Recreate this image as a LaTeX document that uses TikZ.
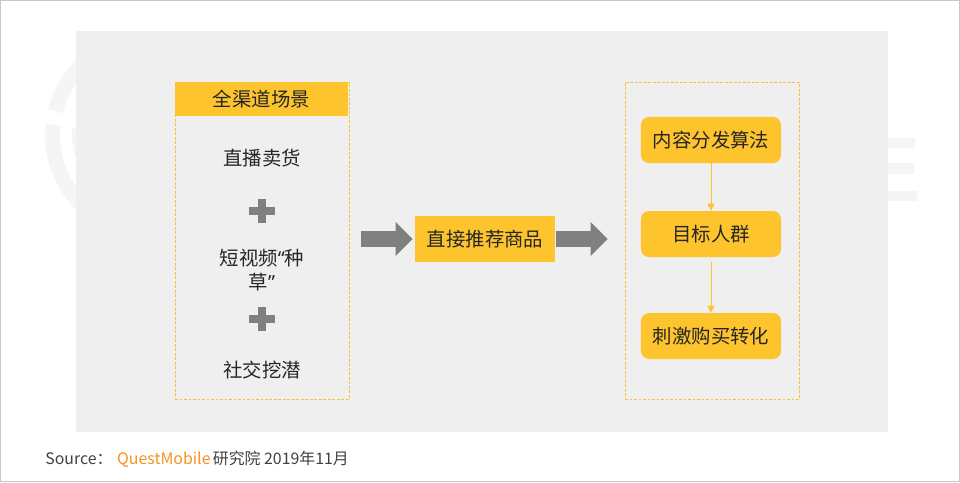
\documentclass[tikz,border=0pt]{standalone}
\usepackage{fontspec}
\setmainfont{Noto Sans CJK SC}
\newfontfamily\quotefont{Noto Sans}
\usetikzlibrary{arrows.meta,fit}

\definecolor{qmyellow}{HTML}{FDC42D}
\definecolor{frameyellow}{HTML}{F9C23C}
\definecolor{panelgrey}{HTML}{EFEFEF}
\definecolor{wmgrey}{HTML}{F5F5F5}
\definecolor{arrowgrey}{HTML}{808080}
\definecolor{textdark}{HTML}{262626}
\definecolor{srcgrey}{HTML}{404040}
\definecolor{qmorange}{HTML}{F7931E}
\definecolor{bordergrey}{HTML}{C8C8C8}

\begin{document}
\begin{tikzpicture}[x=0.025cm,y=-0.025cm,
    every node/.style={text=textdark},
    cntxt/.style={font=\fontsize{13.8pt}{16.5pt}\selectfont, align=center},
    hdrbox/.style={cntxt, fill=qmyellow, minimum width=4.325cm, minimum height=0.85cm, inner sep=0pt},
    yellowbox/.style={cntxt, fill=qmyellow, minimum width=3.5cm, minimum height=1.15cm, inner sep=0pt},
    roundbox/.style={yellowbox, rounded corners=0.2cm},
    frame/.style={draw=frameyellow, dash pattern=on 2pt off 1.2pt, line width=0.6pt, inner sep=0pt},
    flow/.style={draw=qmyellow, line width=0.7pt, -{Triangle[length=0.18cm,width=0.18cm]}},
    blockarrow/.style={draw=arrowgrey, line width=0.4cm, -{Triangle[length=0.425cm,width=0.825cm]}}
  ]
  \useasboundingbox (0,0) rectangle (960,482);

  % watermark behind the panel
  \draw[wmgrey, line width=0.375cm] (151,135) ++(120:98.5) arc[start angle=120, end angle=186, radius=98.5];
  \draw[wmgrey, line width=0.375cm] (151,135) ++(194:98.5) arc[start angle=194, end angle=240, radius=98.5];
  \draw[wmgrey, line width=0.2cm] (151,135) ++(165:75) arc[start angle=165, end angle=185, radius=75];
  \fill[wmgrey] (880,138) rectangle (915,148);
  \fill[wmgrey] (880,163) rectangle (914,174);
  \fill[wmgrey] (880,191) rectangle (917,201);

  \fill[panelgrey] (76,31) rectangle (888,432);
  \draw[bordergrey, line width=0.7pt] (0.5,0.5) rectangle (959,481);

  % left: channels
  \node[frame, fit={(175,82) (349,399)}] (sceneframe) {};
  \node[hdrbox] (scene) at (261.5,99) {全渠道场景};
  \node[cntxt] (live) at (262,158) {直播卖货};
  \fill[arrowgrey] (249,207) rectangle (275,215);
  \fill[arrowgrey] (258,199) rectangle (266,223);
  \node[cntxt] (video) at (262,270) {短视频{\quotefont“}种\\草{\quotefont”}};
  \fill[arrowgrey] (249,314.5) rectangle (275,322.5);
  \fill[arrowgrey] (258,306.5) rectangle (266,330.5);
  \node[cntxt] (social) at (262,370) {社交挖潜};

  % middle
  \node[yellowbox] (recommend) at (485,239) {直接推荐商品};

  % right: engine
  \node[frame, fit={(625,82) (799,399)}] (engineframe) {};
  \node[roundbox] (algo) at (711,140) {内容分发算法};
  \node[roundbox] (crowd) at (711,234) {目标人群};
  \node[roundbox] (convert) at (711,336) {刺激购买转化};
  \draw[flow] (algo) -- (crowd);
  \draw[flow, shorten <=0.125cm] (crowd) -- (convert);

  \draw[blockarrow, shorten <=0.3cm, shorten >=0.05cm] (sceneframe.east |- recommend.west) -- (recommend.west);
  \draw[blockarrow, shorten <=0.025cm, shorten >=0.425cm] (recommend.east) -- (engineframe.west |- recommend.east);

  \node[anchor=base west, font=\fontsize{11.3pt}{13pt}\selectfont, text=srcgrey, inner sep=0pt] (source) at (45,464)
    {Source：\hspace{0.3em}\textcolor{qmorange}{QuestMobile}\hspace{0.15em}研究院 2019年11月};
\end{tikzpicture}
\end{document}
